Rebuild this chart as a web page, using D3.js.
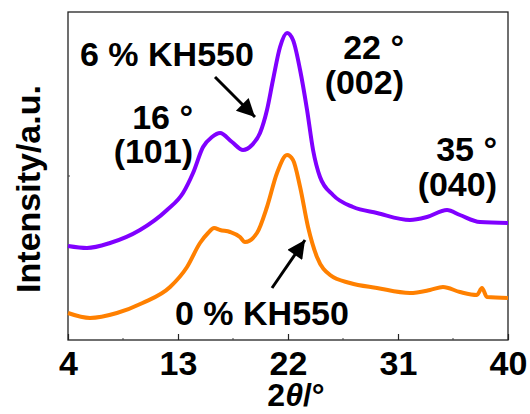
<!DOCTYPE html>
<html>
<head>
<meta charset="utf-8">
<script src="https://cdn.jsdelivr.net/npm/d3@7"></script>
<style>
  body { margin: 0; background: #fff; }
  svg { display: block; font-family: "Liberation Sans", Arial, sans-serif; font-weight: bold; }
</style>
</head>
<body>
<div id="canva"></div>
<script>
// 2theta values (degrees)
const twoTheta0 = [4.0, 5.8, 8.0, 10.1, 12.35, 13.74, 14.8, 15.46, 15.95, 16.44, 17.26, 18.07, 18.48, 19.46, 20.28, 21.1, 21.92, 22.41, 22.99, 23.64, 24.37, 25.44, 27.07, 29.28, 31.98, 33.62, 34.68, 36.07, 37.46, 37.87, 38.28, 40.0];
const kh550_0 = [27, 22, 27, 37, 53, 73, 97, 107, 112, 110, 108, 103, 98, 107, 133, 167, 185, 180, 153, 113, 83, 65, 57, 52, 47, 50, 53, 48, 45, 52, 43, 42];

const twoTheta6 = [4.0, 5.55, 7.44, 9.89, 12.1, 13.41, 14.23, 15.05, 15.78, 16.44, 17.42, 18.32, 19.05, 19.71, 20.28, 20.77, 21.35, 21.92, 22.41, 22.99, 23.56, 24.05, 24.62, 25.68, 27.32, 29.28, 31.98, 33.37, 35.01, 36.07, 37.71, 40.0];
const kh550_6 = [94, 92, 97, 110, 130, 147, 167, 193, 203, 207, 198, 190, 195, 207, 230, 260, 293, 307, 300, 270, 230, 190, 163, 145, 133, 127, 120, 123, 130, 125, 118, 117];

const xTicks = [4, 13, 22, 31, 40];
const xMinor = [8.5, 17.5, 26.5, 35.5];

const width = 530, height = 414;
const mLeft = 68, mRight = 508, mTop = 12, mBottom = 340;

const svg = d3.select('#canva').append('svg')
    .attr('width', width)
    .attr('height', height);

const x = d3.scaleLinear().domain([4, 40]).range([mLeft, mRight]);
const y = d3.scaleLinear().domain([0, 328]).range([mBottom, mTop]);

// frame
svg.append('rect')
    .attr('x', mLeft).attr('y', mTop)
    .attr('width', mRight - mLeft).attr('height', mBottom - mTop)
    .attr('fill', 'none')
    .attr('stroke', '#222')
    .attr('stroke-width', 1.3);

// bottom axis, ticks pointing inward
const xAxis = svg.append('g')
    .attr('transform', `translate(0,${mBottom})`)
    .call(d3.axisBottom(x).tickValues(xTicks).tickSizeInner(-6).tickSizeOuter(0).tickPadding(11));
xAxis.select('.domain').remove();
xAxis.selectAll('line').attr('stroke', '#222').attr('stroke-width', 1.2);
xAxis.selectAll('text')
    .attr('font-size', 34)
    .attr('font-family', '"Liberation Sans", Arial, sans-serif')
    .attr('font-weight', 'bold')
    .attr('fill', '#000')
    .attr('dy', '0.72em');

svg.append('g')
    .selectAll('line')
    .data(xMinor)
    .join('line')
    .attr('x1', d => x(d)).attr('x2', d => x(d))
    .attr('y1', mBottom).attr('y2', mBottom - 2)
    .attr('stroke', '#444');

// left axis tick (unlabelled)
svg.append('line')
    .attr('x1', mLeft).attr('x2', mLeft + 2)
    .attr('y1', y(164)).attr('y2', y(164))
    .attr('stroke', '#444');

const line = d3.line()
    .x(d => x(d[0]))
    .y(d => y(d[1]))
    .curve(d3.curveMonotoneX);

svg.append('path')
    .datum(d3.zip(twoTheta0, kh550_0))
    .attr('d', line)
    .attr('fill', 'none')
    .attr('stroke', '#ff8000')
    .attr('stroke-width', 4)
    .attr('stroke-linejoin', 'round');

svg.append('path')
    .datum(d3.zip(twoTheta6, kh550_6))
    .attr('d', line)
    .attr('fill', 'none')
    .attr('stroke', '#8000ff')
    .attr('stroke-width', 4)
    .attr('stroke-linejoin', 'round');

// arrows
const defs = svg.append('defs');
defs.append('marker')
    .attr('id', 'head')
    .attr('viewBox', '0 0 10 10')
    .attr('refX', 10).attr('refY', 5)
    .attr('markerWidth', 7).attr('markerHeight', 6)
    .attr('markerUnits', 'strokeWidth')
    .attr('orient', 'auto')
    .append('path')
    .attr('d', 'M0,0 L10,5 L0,10 Z')
    .attr('fill', '#000');

const arrows = [
    { x1: 215, y1: 77, x2: 255, y2: 117 },
    { x1: 272, y1: 288, x2: 305, y2: 240 }
];
svg.selectAll('.arrow')
    .data(arrows)
    .join('line')
    .attr('class', 'arrow')
    .attr('x1', d => d.x1).attr('y1', d => d.y1)
    .attr('x2', d => d.x2).attr('y2', d => d.y2)
    .attr('stroke', '#000')
    .attr('stroke-width', 3)
    .attr('marker-end', 'url(#head)');

// annotations
const labels = [
    { t: '6 % KH550', x: 80, y: 66, a: 'start' },
    { t: '22 °', x: 404, y: 59, a: 'end' },
    { t: '(002)', x: 404, y: 94, a: 'end' },
    { t: '16 °', x: 193, y: 129, a: 'end' },
    { t: '(101)', x: 193, y: 163, a: 'end' },
    { t: '35 °', x: 497, y: 161, a: 'end' },
    { t: '(040)', x: 497, y: 196, a: 'end' },
    { t: '0 % KH550', x: 175, y: 325, a: 'start' }
];
svg.selectAll('.ann')
    .data(labels)
    .join('text')
    .attr('class', 'ann')
    .attr('x', d => d.x).attr('y', d => d.y)
    .attr('text-anchor', d => d.a)
    .attr('font-size', 34)
    .text(d => d.t);

// axis titles
svg.append('text')
    .attr('transform', 'translate(40,189) rotate(-90)')
    .attr('text-anchor', 'middle')
    .attr('font-size', 34)
    .text('Intensity/a.u.');

const xt = svg.append('text')
    .attr('x', 296).attr('y', 406)
    .attr('text-anchor', 'middle')
    .attr('font-size', 32);
xt.append('tspan').text('2');
xt.append('tspan').attr('font-style', 'italic').text('θ');
xt.append('tspan').text('/°');
</script>
</body>
</html>
